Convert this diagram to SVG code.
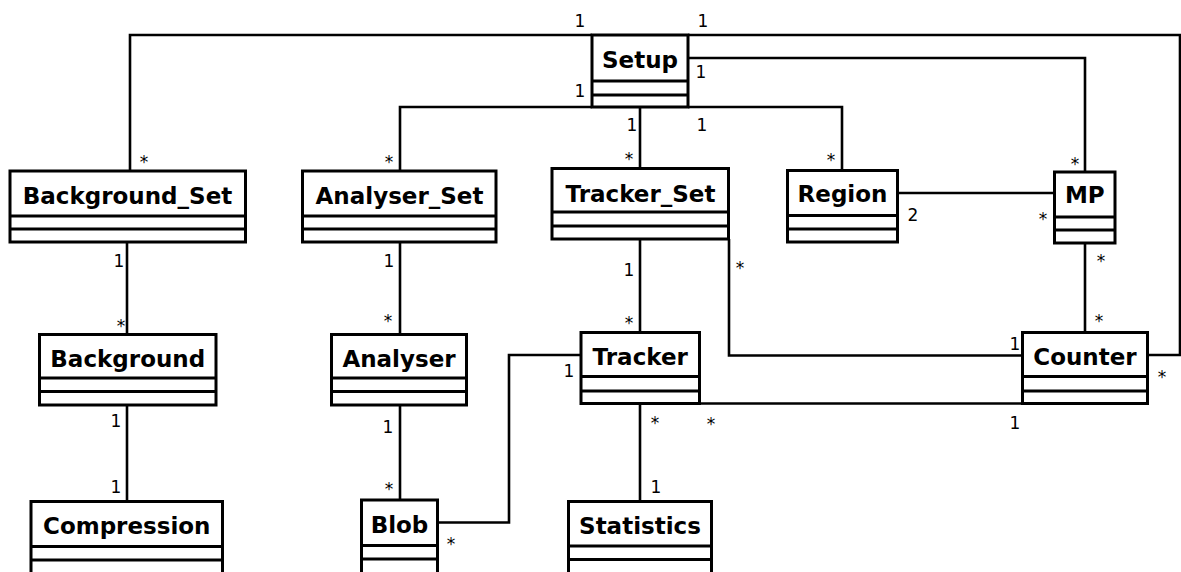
<svg xmlns="http://www.w3.org/2000/svg" width="1181" height="572" viewBox="0 0 1181 572">
  <style>
    .box { fill: #ffffff; stroke: #000000; stroke-width: 3; }
    .sep { stroke: #000000; stroke-width: 3; }
    .name { font-family: "DejaVu Sans", "Liberation Sans", sans-serif; font-weight: bold; font-size: 23px; text-anchor: middle; fill: #000000; }
    .conn { fill: none; stroke: #000000; stroke-width: 2.6; }
    .mult { font-family: "DejaVu Sans", "Liberation Sans", sans-serif; font-size: 17px; text-anchor: middle; fill: #000000; }
  </style>
  <rect width="1181" height="572" fill="#ffffff"/>

  <!-- associations -->
  <g id="connectors">
    <path class="conn" d="M130 171 V35 H592"/>
    <path class="conn" d="M688 35 H1180 V355 H1147.5"/>
    <path class="conn" d="M688 58 H1085 V172"/>
    <path class="conn" d="M400 171 V107 H592"/>
    <path class="conn" d="M688 107 H842 V170.5"/>
    <path class="conn" d="M640 107 V168.5"/>
    <path class="conn" d="M897.5 193 H1054.5"/>
    <path class="conn" d="M1085 243 V332.5"/>
    <path class="conn" d="M729 239 V355.5 H1022.5"/>
    <path class="conn" d="M640 239 V332.5"/>
    <path class="conn" d="M699.5 403.5 H1022.5"/>
    <path class="conn" d="M640 403.5 V501.5"/>
    <path class="conn" d="M581 355 H509 V522.5 H437.5"/>
    <path class="conn" d="M400 242 V334.5"/>
    <path class="conn" d="M400 405 V500"/>
    <path class="conn" d="M127 242 V334.5"/>
    <path class="conn" d="M127 405 V501.5"/>

    <!-- multiplicities -->
    <text class="mult" x="580" y="27">1</text>
    <text class="mult" x="703" y="27">1</text>
    <text class="mult" x="701" y="78">1</text>
    <text class="mult" x="580" y="97">1</text>
    <text class="mult" x="632" y="131">1</text>
    <text class="mult" x="702" y="131">1</text>
    <text class="mult" x="629" y="165">*</text>
    <text class="mult" x="389" y="168">*</text>
    <text class="mult" x="144" y="168">*</text>
    <text class="mult" x="831" y="166">*</text>
    <text class="mult" x="1075" y="170">*</text>
    <text class="mult" x="913" y="221">2</text>
    <text class="mult" x="1043" y="225">*</text>
    <text class="mult" x="1101" y="267">*</text>
    <text class="mult" x="1099" y="327">*</text>
    <text class="mult" x="1015" y="350">1</text>
    <text class="mult" x="1162" y="383">*</text>
    <text class="mult" x="1015" y="429">1</text>
    <text class="mult" x="740" y="274">*</text>
    <text class="mult" x="629" y="276">1</text>
    <text class="mult" x="629" y="329">*</text>
    <text class="mult" x="569" y="377">1</text>
    <text class="mult" x="655" y="429">*</text>
    <text class="mult" x="711" y="430">*</text>
    <text class="mult" x="656" y="493">1</text>
    <text class="mult" x="451" y="550">*</text>
    <text class="mult" x="389" y="267">1</text>
    <text class="mult" x="388" y="327">*</text>
    <text class="mult" x="388" y="433">1</text>
    <text class="mult" x="389" y="495">*</text>
    <text class="mult" x="119" y="267">1</text>
    <text class="mult" x="121" y="332">*</text>
    <text class="mult" x="116" y="427">1</text>
    <text class="mult" x="116" y="493">1</text>
  </g>

  <!-- classes -->
  <g id="setup">
    <rect class="box" x="592" y="35" width="96" height="72"/>
    <line class="sep" x1="592" y1="81" x2="688" y2="81"/>
    <line class="sep" x1="592" y1="95" x2="688" y2="95"/>
    <text class="name" x="640" y="67.5">Setup</text>
  </g>
  <g id="background_set">
    <rect class="box" x="10" y="171" width="235.5" height="71"/>
    <line class="sep" x1="10" y1="216" x2="245.5" y2="216"/>
    <line class="sep" x1="10" y1="229" x2="245.5" y2="229"/>
    <text class="name" x="127.5" y="204">Background_Set</text>
  </g>
  <g id="analyser_set">
    <rect class="box" x="302.5" y="171" width="193.5" height="71"/>
    <line class="sep" x1="302.5" y1="216" x2="496" y2="216"/>
    <line class="sep" x1="302.5" y1="229" x2="496" y2="229"/>
    <text class="name" x="399.5" y="204">Analyser_Set</text>
  </g>
  <g id="tracker_set">
    <rect class="box" x="552" y="168.5" width="176.5" height="70.5"/>
    <line class="sep" x1="552" y1="212" x2="728.5" y2="212"/>
    <line class="sep" x1="552" y1="226" x2="728.5" y2="226"/>
    <text class="name" x="640.5" y="201.5">Tracker_Set</text>
  </g>
  <g id="region">
    <rect class="box" x="787.5" y="170.5" width="110" height="71.5"/>
    <line class="sep" x1="787.5" y1="215.5" x2="897.5" y2="215.5"/>
    <line class="sep" x1="787.5" y1="229" x2="897.5" y2="229"/>
    <text class="name" x="842.5" y="201.5">Region</text>
  </g>
  <g id="mp">
    <rect class="box" x="1054.5" y="172" width="60.5" height="71"/>
    <line class="sep" x1="1054.5" y1="217" x2="1115" y2="217"/>
    <line class="sep" x1="1054.5" y1="230" x2="1115" y2="230"/>
    <text class="name" x="1084.75" y="203">MP</text>
  </g>
  <g id="background">
    <rect class="box" x="39.5" y="334.5" width="176.5" height="70.5"/>
    <line class="sep" x1="39.5" y1="378" x2="216" y2="378"/>
    <line class="sep" x1="39.5" y1="391.5" x2="216" y2="391.5"/>
    <text class="name" x="127.75" y="366.5">Background</text>
  </g>
  <g id="analyser">
    <rect class="box" x="331.5" y="334.5" width="135" height="70.5"/>
    <line class="sep" x1="331.5" y1="378" x2="466.5" y2="378"/>
    <line class="sep" x1="331.5" y1="391.5" x2="466.5" y2="391.5"/>
    <text class="name" x="399" y="366.5">Analyser</text>
  </g>
  <g id="tracker">
    <rect class="box" x="581" y="332.5" width="118.5" height="71"/>
    <line class="sep" x1="581" y1="376.5" x2="699.5" y2="376.5"/>
    <line class="sep" x1="581" y1="391" x2="699.5" y2="391"/>
    <text class="name" x="640.25" y="365">Tracker</text>
  </g>
  <g id="counter">
    <rect class="box" x="1022.5" y="332.5" width="125" height="71"/>
    <line class="sep" x1="1022.5" y1="376.5" x2="1147.5" y2="376.5"/>
    <line class="sep" x1="1022.5" y1="391" x2="1147.5" y2="391"/>
    <text class="name" x="1085" y="365">Counter</text>
  </g>
  <g id="compression">
    <rect class="box" x="31" y="501.5" width="191.5" height="80"/>
    <line class="sep" x1="31" y1="546.5" x2="222.5" y2="546.5"/>
    <line class="sep" x1="31" y1="560" x2="222.5" y2="560"/>
    <text class="name" x="126.75" y="534">Compression</text>
  </g>
  <g id="blob">
    <rect class="box" x="361.5" y="500" width="76" height="80"/>
    <line class="sep" x1="361.5" y1="545.5" x2="437.5" y2="545.5"/>
    <line class="sep" x1="361.5" y1="559" x2="437.5" y2="559"/>
    <text class="name" x="399.5" y="532.5">Blob</text>
  </g>
  <g id="statistics">
    <rect class="box" x="568.5" y="501.5" width="143" height="80"/>
    <line class="sep" x1="568.5" y1="546" x2="711.5" y2="546"/>
    <line class="sep" x1="568.5" y1="559.5" x2="711.5" y2="559.5"/>
    <text class="name" x="640" y="534">Statistics</text>
  </g>
</svg>
